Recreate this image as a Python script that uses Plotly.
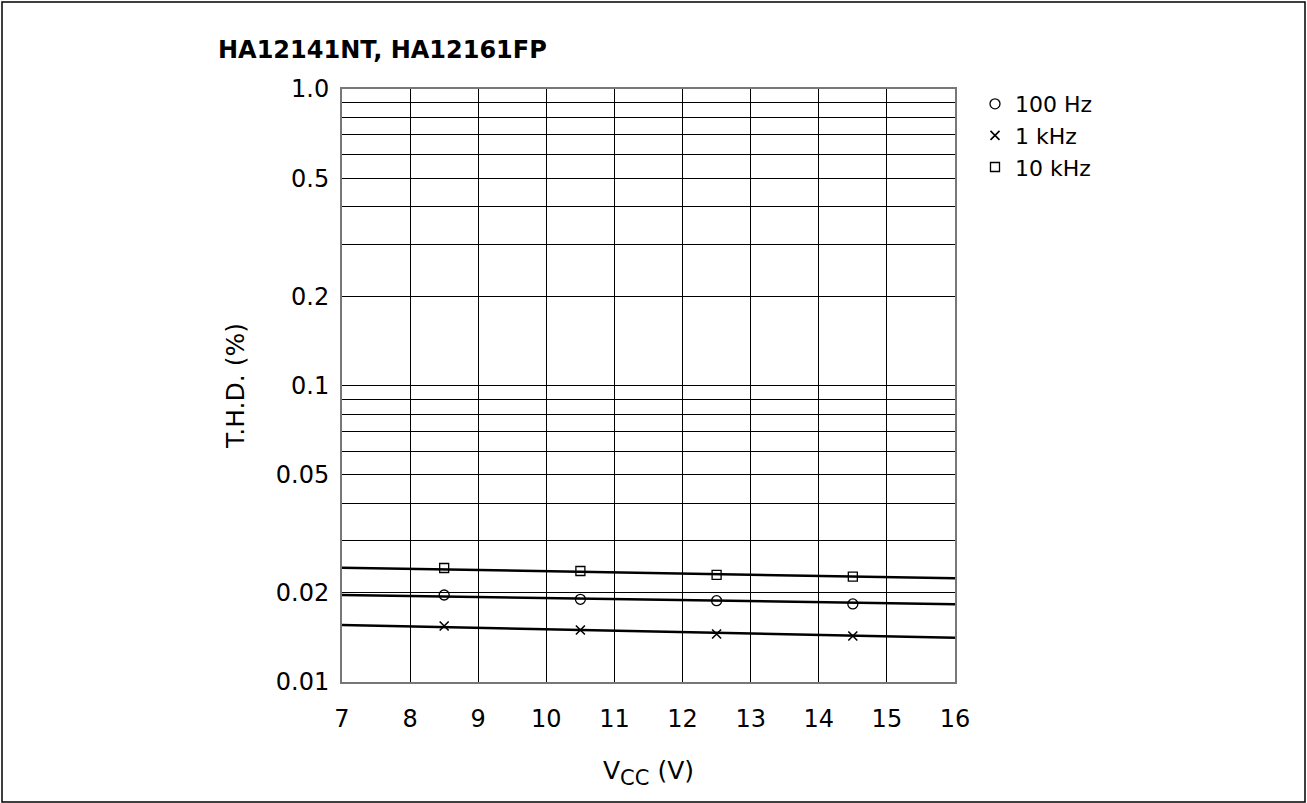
import plotly.graph_objects as go

# ---- data ----
vcc_points = [8.5, 10.5, 12.5, 14.5]
thd_100hz = [0.01965, 0.01901, 0.01880, 0.01833]
thd_1khz = [0.01545, 0.01497, 0.01452, 0.01429]
thd_10khz = [0.02424, 0.02368, 0.02296, 0.02266]

vcc_fit = [7, 16]
fit_100hz = [0.01965, 0.01829]
fit_1khz = [0.01557, 0.01411]
fit_10khz = [0.02430, 0.02238]

y_tick_vals = [0.01, 0.02, 0.05, 0.1, 0.2, 0.5, 1.0]
y_tick_text = ["0.01", "0.02", "0.05", "0.1", "0.2", "0.5", "1.0"]
y_minor_grid = [0.03, 0.04, 0.06, 0.07, 0.08, 0.09,
                0.3, 0.4, 0.6, 0.7, 0.8, 0.9]
x_ticks = list(range(7, 17))

W, H = 1307, 803
L, R, T, B = 342, 352, 89, 121
pw, ph = W - L - R, H - T - B

fig = go.Figure()
for fy in [fit_10khz, fit_100hz, fit_1khz]:
    fig.add_trace(go.Scatter(x=vcc_fit, y=fy, mode="lines",
                             line=dict(color="black", width=2.5),
                             showlegend=False, hoverinfo="skip"))

fig.add_trace(go.Scatter(x=vcc_points, y=thd_100hz, mode="markers", name="100 Hz",
                         marker=dict(symbol="circle-open", size=10, color="black",
                                     line=dict(width=1.3, color="black"))))
fig.add_trace(go.Scatter(x=vcc_points, y=thd_1khz, mode="markers", name="1 kHz",
                         marker=dict(symbol="x-thin-open", size=9, color="black",
                                     line=dict(width=1.6, color="black"))))
fig.add_trace(go.Scatter(x=vcc_points, y=thd_10khz, mode="markers", name="10 kHz",
                         marker=dict(symbol="square-open", size=9, color="black",
                                     line=dict(width=1.3, color="black"))))

font_family = "DejaVu Sans, Arial, sans-serif"

fig.update_layout(
    width=W, height=H,
    margin=dict(l=L, r=R, t=T, b=B),
    paper_bgcolor="white", plot_bgcolor="white",
    font=dict(family=font_family, color="black", size=24),
    title=dict(text="<b>HA12141NT, HA12161FP</b>", x=218 / W, xanchor="left",
               y=1 - 50 / H, yanchor="middle", font=dict(size=24)),
    legend=dict(x=(975 - L) / pw, xanchor="left",
                y=1 - (83 - T) / ph, yanchor="top",
                font=dict(size=22), itemwidth=30, tracegroupgap=0,
                bgcolor="rgba(0,0,0,0)"),
    showlegend=True,
)

fig.update_xaxes(range=[7, 16], tickvals=x_ticks, ticktext=[str(v) for v in x_ticks],
                 showgrid=True, gridcolor="black", gridwidth=1,
                 showline=True, linecolor="#777", linewidth=2, mirror=True,
                 zeroline=False, ticks="", ticklabelstandoff=14,
                 title=dict(text="V<sub><span style='font-size:21px'>CC</span></sub> (V)",
                            standoff=30, font=dict(size=25)))
fig.update_yaxes(type="log", range=[-2, 0], tickvals=y_tick_vals, ticktext=y_tick_text,
                 showgrid=True, gridcolor="black", gridwidth=1,
                 minor=dict(tickvals=y_minor_grid, showgrid=True, gridcolor="black",
                            gridwidth=1, ticks=""),
                 showline=True, linecolor="#777", linewidth=2, mirror=True,
                 zeroline=False, ticks="", ticklabelstandoff=6,
                 title=dict(text="T.H.D. (%)", standoff=24, font=dict(size=25)))

# outer frame around the whole figure
fig.add_shape(type="rect", xref="paper", yref="paper",
              x0=(2 - L) / pw, x1=(W - 2 - L) / pw,
              y0=(T + ph - (H - 1)) / ph, y1=(T + ph - 2) / ph,
              line=dict(color="black", width=1.5))

fig.write_html("out.html", config={"displayModeBar": False},
               post_script="document.body.style.margin='0';")
